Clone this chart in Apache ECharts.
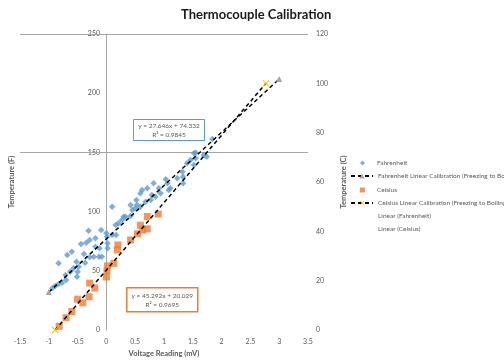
<!DOCTYPE html>
<html>
<head>
<meta charset="utf-8">
<script src="https://cdn.jsdelivr.net/npm/echarts@6/dist/echarts.min.js"></script>
<style>
  html, body { margin: 0; padding: 0; background: #fff; }
  #chart { width: 504px; height: 364px; }
</style>
</head>
<body>
<div id="chart"></div>
<script>
// readings (mV) and temperatures
const fVolts = [-0.94, -0.89, -0.83, -0.77, -0.71, -0.70, -0.63, -0.57, -0.51, -0.50,
  -0.48, -0.52, -0.39, -0.37, -0.29, -0.29, -0.22, -0.19, -0.13, -0.09,
  -0.08, 0.01, 0.02, 0.02, 0.10, 0.17, 0.10, 0.21, 0.27, 0.33,
  0.42, 0.42, 0.45, 0.52, 0.53, 0.59, 0.68, 0.71, 0.79, 0.82,
  0.91, 0.94, 1.03, 1.06, 1.08, 1.23, 1.32, 1.33, 1.40, 1.52,
  1.55, 1.69, 1.33, 1.84, 1.74, 1.55, 1.46, 1.52, 1.11, 0.62,
  0.50, 0.30, 0.59, 0.77, 0.85, -0.31, -0.44, -0.35, -0.60, -0.68,
  -0.19, -0.12, 0.00, 0.16, -0.83];
const fTemps = [35.2, 37.2, 38.9, 40.0, 46.5, 42.2, 49.2, 52.1, 45.0, 49.2,
  53.5, 57.7, 64.2, 56.8, 61.4, 76.0, 61.9, 77.4, 61.9, 84.5,
  61.9, 78.8, 73.2, 69.0, 80.2, 80.2, 104.1, 90.1, 92.9, 95.7,
  96.3, 105.6, 101.4, 109.8, 105.6, 115.5, 108.4, 119.7, 114.0, 123.9,
  119.7, 115.5, 127.3, 123.9, 118.2, 128.1, 133.7, 129.5, 140.8, 149.2,
  145.0, 147.8, 123.9, 161.3, 146.4, 149.7, 143.6, 139.4, 119.7, 118.2,
  102.8, 95.7, 104.1, 109.8, 112.6, 83.9, 72.6, 73.7, 66.1, 63.3,
  70.4, 69.0, 81.7, 88.7, 56.3];

const cVolts = [-0.82, -0.70, -0.60, -0.50, -0.41, -0.30, -0.29, -0.20, 0.00, 0.01,
  0.02, 0.13, 0.19, 0.20, 0.42, 0.54, 0.59, 0.63, 0.71, 0.71, 0.90];
const cTemps = [1.5, 5.0, 7.5, 12.5, 11.0, 13.5, 19.0, 17.0, 21.5, 24.0,
  26.0, 27.0, 32.5, 34.5, 36.5, 39.0, 42.5, 40.5, 41.0, 46.0, 47.0];

// freezing / boiling calibration lines
const fCalVolts = [-1.0, 3.0];
const fCalTemps = [32, 212];
const cCalVolts = [-0.89, 2.77];
const cCalTemps = [0, 100];

const gridLineValues = [150, 250];

const seriesNames = [
  "Fahrenheit",
  "Fahrenheit Linear Calibration (Freezing to Boiling)",
  "Celsius",
  "Celsius Linear Calibration (Freezing to Boiling)",
  "Linear (Fahrenheit)",
  "Linear (Celsius)",
];

const fEquation = ["y = 27.646x + 74.332", "R\u00b2 = 0.9845"];
const cEquation = ["y = 45.292x + 20.029", "R\u00b2 = 0.9695"];

const zip = (xs, ys) => xs.map((x, i) => [x, ys[i]]);

const blue = "#5b9bd5";
const orange = "#ed7d31";
const gray = "#a6a6a6";
const textColor = "#595959";
const font = "Lato";
const crossPath = "path://M0,1L1,0L5,4L9,0L10,1L6,5L10,9L9,10L5,6L1,10L0,9L4,5Z";

const chart = echarts.init(document.getElementById("chart"));

const hidden = { opacity: 0 };
const legendText = { fontSize: 6.5, color: textColor, lineHeight: 8 };

// legend rows are split so marker entries get small icons and line entries wide ones
const baseLegend = { orient: "vertical", padding: 0, textStyle: legendText };

const option = {
  animation: false,
  textStyle: { fontFamily: font },
  title: {
    text: "Thermocouple Calibration",
    left: 181,
    top: 8,
    padding: 0,
    textStyle: { fontSize: 13, fontWeight: "bold", color: "#1a1a1a", fontFamily: font },
  },
  legend: [
    {
      ...baseLegend,
      left: 360,
      top: 159,
      itemWidth: 5,
      itemHeight: 5,
      itemGap: 19,
      textStyle: { ...legendText, padding: [0, 0, 0, 7] },
      data: [
        { name: seriesNames[0], icon: "diamond" },
        { name: seriesNames[2], icon: "rect" },
      ],
    },
    {
      ...baseLegend,
      left: 350,
      top: 172,
      itemWidth: 22,
      itemHeight: 6,
      itemGap: 19,
      data: [seriesNames[1], seriesNames[3]],
    },
    {
      ...baseLegend,
      left: 350,
      top: 212,
      itemWidth: 22,
      itemHeight: 6,
      itemGap: 5.4,
      data: [
        { name: seriesNames[4], itemStyle: hidden, lineStyle: hidden },
        { name: seriesNames[5], itemStyle: hidden, lineStyle: hidden },
      ],
    },
  ],
  grid: { left: 20, right: 196, top: 34, bottom: 34, outerBoundsMode: "none" },
  xAxis: {
    type: "value",
    min: -1.5,
    max: 3.5,
    interval: 0.5,
    name: "Voltage Reading (mV)",
    nameLocation: "middle",
    nameGap: 19,
    nameTextStyle: { fontSize: 7.5, fontWeight: "bold", color: textColor },
    axisLine: { show: false, onZero: false },
    axisTick: { show: false },
    splitLine: { show: false },
    axisLabel: { fontSize: 7, color: textColor, margin: 8 },
  },
  yAxis: [
    {
      type: "value",
      min: 0,
      max: 250,
      interval: 50,
      offset: -86,
      name: "Temperature (F)",
      nameLocation: "middle",
      nameGap: 90,
      nameTextStyle: { fontSize: 7.5, fontWeight: "bold", color: textColor },
      axisLine: { show: true, onZero: false, lineStyle: { color: gray, width: 1 } },
      axisTick: { show: false },
      splitLine: { show: false },
      axisLabel: { fontSize: 7, color: textColor, margin: 6 },
    },
    {
      type: "value",
      min: 0,
      max: 120,
      interval: 20,
      position: "right",
      name: "Temperature (C)",
      nameLocation: "middle",
      nameGap: 23,
      nameTextStyle: { fontSize: 7.5, fontWeight: "bold", color: textColor },
      axisLine: { show: false, onZero: false },
      axisTick: { show: false },
      splitLine: { show: false },
      axisLabel: { fontSize: 7, color: textColor, margin: 8 },
    },
  ],
  series: [
    {
      name: seriesNames[0],
      type: "scatter",
      yAxisIndex: 0,
      symbol: "diamond",
      symbolSize: 6.5,
      itemStyle: { color: blue },
      data: zip(fVolts, fTemps),
      z: 3,
    },
    {
      name: seriesNames[1],
      type: "line",
      yAxisIndex: 0,
      symbol: "triangle",
      symbolSize: 6,
      itemStyle: { color: gray },
      lineStyle: { color: "#000", width: 1.5, type: [4, 3] },
      data: zip(fCalVolts, fCalTemps),
      z: 4,
      markLine: {
        silent: true,
        symbol: "none",
        label: { show: false },
        lineStyle: { color: gray, width: 1, type: "solid" },
        data: gridLineValues.map((v) => ({ yAxis: v })),
        z: 1,
      },
    },
    {
      name: seriesNames[2],
      type: "scatter",
      yAxisIndex: 1,
      symbol: "rect",
      symbolSize: 7,
      itemStyle: { color: orange },
      data: zip(cVolts, cTemps),
      z: 3,
    },
    {
      name: seriesNames[3],
      type: "line",
      yAxisIndex: 1,
      symbol: crossPath,
      symbolSize: 7,
      itemStyle: { color: "#ffc000" },
      lineStyle: { color: "#000", width: 1.5, type: [4, 3] },
      data: zip(cCalVolts, cCalTemps),
      z: 4,
    },
    {
      name: seriesNames[4],
      type: "line",
      yAxisIndex: 0,
      symbol: "none",
      itemStyle: hidden,
      lineStyle: hidden,
      data: [],
    },
    {
      name: seriesNames[5],
      type: "line",
      yAxisIndex: 1,
      symbol: "none",
      itemStyle: hidden,
      lineStyle: hidden,
      data: [],
    },
  ],
  graphic: [
    {
      type: "group",
      left: 133,
      top: 119,
      children: [
        { type: "rect", shape: { width: 71, height: 21 }, style: { fill: "#fff", stroke: blue, lineWidth: 1 } },
        { type: "text", x: 35.5, y: 6, style: { text: fEquation[0], fontSize: 6.5, fontFamily: font, fill: textColor, align: "center", verticalAlign: "middle" } },
        { type: "text", x: 35.5, y: 15, style: { text: fEquation[1], fontSize: 6.5, fontFamily: font, fill: textColor, align: "center", verticalAlign: "middle" } },
      ],
    },
    {
      type: "group",
      left: 126,
      top: 287,
      children: [
        { type: "rect", shape: { width: 71, height: 24 }, style: { fill: "#fff", stroke: orange, lineWidth: 1.5 } },
        { type: "text", x: 35.5, y: 8, style: { text: cEquation[0], fontSize: 6.5, fontFamily: font, fill: textColor, align: "center", verticalAlign: "middle" } },
        { type: "text", x: 35.5, y: 17, style: { text: cEquation[1], fontSize: 6.5, fontFamily: font, fill: textColor, align: "center", verticalAlign: "middle" } },
      ],
    },
  ],
};

chart.setOption(option);
</script>
</body>
</html>
